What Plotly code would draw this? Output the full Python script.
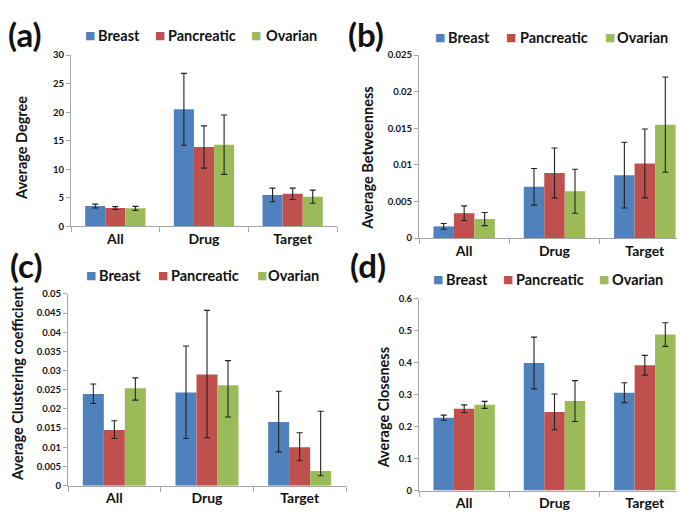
import plotly.graph_objects as go

# --------------------- data
categories = ["All", "Drug", "Target"]
series = ["Breast", "Pancreatic", "Ovarian"]
colors = ["#4F81BD", "#C0504D", "#9BBB59"]

# (a) average degree
degree = {"Breast": [3.55, 20.5, 5.5], "Pancreatic": [3.2, 13.9, 5.7], "Ovarian": [3.15, 14.3, 5.2]}
degree_err = {"Breast": [0.35, 6.3, 1.2], "Pancreatic": [0.25, 3.7, 1.0], "Ovarian": [0.35, 5.2, 1.15]}

# (b) average betweenness
betw = {"Breast": [0.0016, 0.0070, 0.0086], "Pancreatic": [0.0034, 0.0089, 0.0102], "Ovarian": [0.0026, 0.0064, 0.0155]}
betw_err = {"Breast": [0.0004, 0.0025, 0.0045], "Pancreatic": [0.0010, 0.0034, 0.0047], "Ovarian": [0.0009, 0.0030, 0.0065]}

# (c) average clustering coefficient (asymmetric errors)
clust = {"Breast": [0.0239, 0.0243, 0.0166], "Pancreatic": [0.0145, 0.0290, 0.0100], "Ovarian": [0.0254, 0.0262, 0.0038]}
clust_up = {"Breast": [0.0026, 0.0121, 0.0080], "Pancreatic": [0.0024, 0.0167, 0.0038], "Ovarian": [0.0027, 0.0064, 0.0156]}
clust_dn = {"Breast": [0.0025, 0.0120, 0.0078], "Pancreatic": [0.0022, 0.0165, 0.0035], "Ovarian": [0.0031, 0.0083, 0.0012]}

# (d) average closeness
close = {"Breast": [0.228, 0.399, 0.306], "Pancreatic": [0.256, 0.246, 0.392], "Ovarian": [0.268, 0.280, 0.488]}
close_err = {"Breast": [0.008, 0.081, 0.031], "Pancreatic": [0.012, 0.056, 0.031], "Ovarian": [0.011, 0.064, 0.037]}

FONT = "Lato"
W, H = 685, 512
fig = go.Figure()

def px(x):
    return x / W

def py(y):
    return 1 - y / H

panels = [
    # axis suffix, values, err plus, err minus
    ("", degree, degree_err, degree_err),
    ("2", betw, betw_err, betw_err),
    ("3", clust, clust_up, clust_dn),
    ("4", close, close_err, close_err),
]

for suf, vals, eup, edn in panels:
    for name, col in zip(series, colors):
        fig.add_trace(go.Bar(
            x=categories, y=vals[name], name=name, showlegend=False,
            marker=dict(color=col, line=dict(width=0)),
            error_y=dict(type="data", symmetric=False, array=eup[name], arrayminus=edn[name],
                         color="#222222", thickness=1.1, width=3),
            xaxis="x" + suf, yaxis="y" + suf,
        ))

line_style = dict(showline=True, linecolor="#A6A6A6", linewidth=1, showgrid=False, zeroline=False,
                  ticks="outside", tickcolor="#A6A6A6")
xfont = dict(family=FONT, size=14, color="#111111", weight="bold")
yfont = dict(family=FONT, size=9.5, color="#111111", weight="bold")

def xax(dom, anchor):
    return dict(domain=dom, anchor=anchor, tickfont=xfont, tickson="boundaries", ticklen=5, **line_style)

def yax(dom, anchor, rng, dt):
    return dict(domain=dom, anchor=anchor, range=rng, dtick=dt, tickfont=yfont, ticklen=4, **line_style)

fig.update_layout(
    width=W, height=H,
    margin=dict(l=0, r=0, t=0, b=0),
    paper_bgcolor="white", plot_bgcolor="white",
    barmode="group", bargap=0.32, bargroupgap=0,
    xaxis=xax([px(63), px(329)], "y"),
    yaxis=yax([py(217), py(42)], "x", [0, 30], 5),
    xaxis2=xax([px(411), px(682)], "y2"),
    yaxis2=yax([py(229), py(42)], "x2", [0, 0.025], 0.005),
    xaxis3=xax([px(60), px(338)], "y3"),
    yaxis3=yax([py(482), py(286)], "x3", [0, 0.05], 0.005),
    xaxis4=xax([px(411), px(682)], "y4"),
    yaxis4=yax([py(487), py(291)], "x4", [0, 0.6], 0.1),
)

# legends: swatch centre x, text start x per entry, and row centre y, per panel
legend_rows = [
    ([82, 152, 248], [89, 159, 257], 22),
    ([432, 503, 602], [439, 511, 608], 24),
    ([83, 155, 254], [90, 162, 259], 267),
    ([430, 500, 596], [437, 507, 603], 271),
]
for sx, tx, yrow in legend_rows:
    for s, t, name, col in zip(sx, tx, series, colors):
        fig.add_annotation(text="■", x=px(s), y=py(yrow), xref="paper", yref="paper",
                           xanchor="center", yanchor="middle", showarrow=False,
                           font=dict(family="DejaVu Sans", size=11, color=col))
        fig.add_annotation(text=name, x=px(t - 1), y=py(yrow), xref="paper", yref="paper",
                           xanchor="left", yanchor="middle", showarrow=False,
                           font=dict(family=FONT, size=14.5, color="#111111", weight="bold"))

# y axis titles
ytitles = [("Average Degree", 13, 137), ("Average Betweenness", 360, 148),
           ("Average Clustering coefficient", 10, 378), ("Average Closeness", 375, 403)]
for t, x, y in ytitles:
    fig.add_annotation(text=t, x=px(x), y=py(y), xref="paper", yref="paper", textangle=-90,
                       xanchor="center", yanchor="middle", showarrow=False,
                       font=dict(family=FONT, size=14.5, color="#111111", weight="bold"))

# panel letters
for lab, x, y in [("(a)", 17, 20), ("(b)", 358, 20), ("(c)", 18, 256), ("(d)", 360, 256)]:
    fig.add_annotation(text=lab, x=px(x), y=py(y), xref="paper", yref="paper", xanchor="center",
                       yanchor="middle", showarrow=False,
                       font=dict(family=FONT, size=33, color="#111111", weight="bold"))

fig.write_html("out.html")
